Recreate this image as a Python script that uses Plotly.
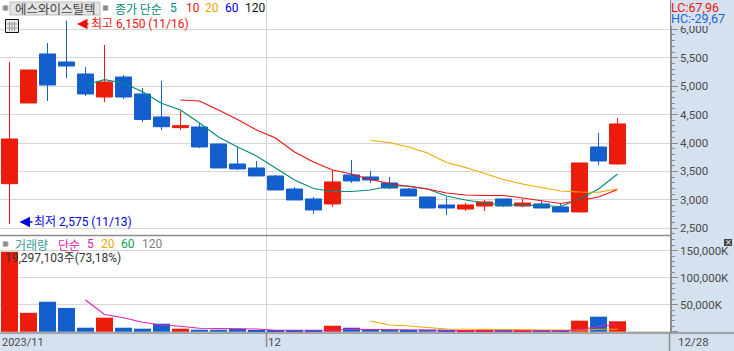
import plotly.graph_objects as go

W, H = 734, 351

# ---------- data ----------
dates = ["11/13","11/14","11/15","11/16","11/17","11/20","11/21","11/22","11/23","11/24",
         "11/27","11/28","11/29","11/30","12/01","12/04","12/05","12/06","12/07","12/08",
         "12/11","12/12","12/13","12/14","12/15","12/18","12/19","12/20","12/21","12/22",
         "12/26","12/27","12/28"]
opens  = [3285,4704,5566,5425,5214,4809,5161,4862,4458,4270,4282,3983,3631,3561,3420,3191,3016,
          2928,3438,3403,3297,3191,3051,2910,2839,2892,3016,2892,2928,2875,2787,3930,3631]
highs  = [5430,5284,5759,6150,5337,5724,5196,4968,5091,4563,4347,3983,3930,3684,3438,3226,3051,
          3526,3701,3508,3403,3209,3051,3051,2945,2998,3016,3016,2980,2928,3649,4176,4440]
lows   = [2575,4704,4739,5144,4827,4721,4774,4370,4229,4229,3912,3561,3526,3420,3174,2998,2752,
          2875,3297,3297,3191,3068,2857,2734,2804,2804,2875,2875,2857,2787,2787,3614,3614]
closes = [4071,5284,5020,5354,4862,5073,4809,4414,4287,4305,3930,3561,3544,3420,3174,2998,2822,
          3315,3333,3350,3209,3068,2857,2857,2910,2963,2892,2945,2857,2787,3649,3684,4335]
ma5  = [None]*4 + [5020,5114,5056,4903,4699,4581,4352,4106,3930,3772,3561,3350,3200,3147,3147,
                   3174,3244,3244,3191,3068,2998,2945,2910,2910,2901,2884,3016,3191,3455]
ma10 = [None]*9 + [4757,4739,4581,4414,4229,4088,3842,3666,3525,3455,3359,3288,3235,3191,3121,
                   3086,3077,3077,3033,2980,2936,2989,3051,3183]
ma20 = [None]*19 + [4044,4009,3930,3825,3657,3570,3464,3359,3279,3218,3156,3139,3133,3191]

volumes = [148000,35000,55500,44000,7400,26000,7400,5600,14800,5600,3700,3700,5500,3000,2500,3000,
           2400,11000,7400,4300,3700,1800,3700,3500,1600,1500,1500,1500,1500,1500,20400,27800,19297]
vol_ma5 = [None]*4 + [58700,31900,25900,17600,12400,10200,6300,5900,5900,5000,2600,2600,3100,3100,
                      4400,4400,4400,4000,3100,2600,1300,1300,1300,1300,1300,1300,3700,9600,13700]
vol_ma20 = [None]*19 + [19800,12400,10600,8100,5000,4400,4400,4400,3100,3100,3100,2600,4400,4400]

price_ticks = [2500,3000,3500,4000,4500,5000,5500,6000]
price_labels = ["2,500","3,000","3,500","4,000","4,500","5,000","5,500","6,000"]
vol_ticks = [0,50000,100000,150000]
vol_labels = ["","50,000K","100,000K","150,000K"]

# ---------- style ----------
RED, BLUE = "#eb1c0a", "#135fcd"
TEAL, MRED, ORANGE, NAVY = "#00897b", "#f01010", "#f0a800", "#0000e0"
MAGENTA, GREEN = "#e020b0", "#10a050"
GRID, AXIS, BAND = "#d6d6d6", "#8c8c8c", "#d6e1ef"
NARROW = "Roboto, Noto Sans CJK KR"
KR = "Noto Sans CJK KR, Roboto"

def px(x): return x / W
def py(y): return 1 - y / H

x = list(range(len(dates)))
month_edge = dates.index("12/01") - 0.5
colors = [RED if c >= o else BLUE for o, c in zip(opens, closes)]

fig = go.Figure()
for vals, col in [(ma5, TEAL), (ma10, MRED), (ma20, ORANGE)]:
    fig.add_trace(go.Scatter(x=x, y=vals, mode="lines", line=dict(color=col, width=1.1),
                             connectgaps=False, hoverinfo="skip", xaxis="x", yaxis="y"))
fig.add_trace(go.Candlestick(
    x=x, open=opens, high=highs, low=lows, close=closes, xaxis="x", yaxis="y",
    increasing=dict(line=dict(color=RED, width=1), fillcolor=RED),
    decreasing=dict(line=dict(color=BLUE, width=1), fillcolor=BLUE),
    whiskerwidth=0, hoverinfo="skip"))
fig.add_trace(go.Bar(x=x, y=volumes, marker=dict(color=colors, line=dict(width=0)),
                     width=17/19, hoverinfo="skip", xaxis="x2", yaxis="y2"))
for vals, col in [(vol_ma20, ORANGE), (vol_ma5, MAGENTA)]:
    fig.add_trace(go.Scatter(x=x, y=vals, mode="lines", line=dict(color=col, width=1.1),
                             hoverinfo="skip", xaxis="x2", yaxis="y2"))

def xax(anchor):
    return dict(domain=[0, px(670)], range=[-0.5, 34.76], anchor=anchor, tickmode="array",
                tickvals=[month_edge], showticklabels=False, ticks="", showgrid=True,
                gridcolor=GRID, gridwidth=1, zeroline=False, showline=False,
                rangeslider=dict(visible=False), fixedrange=True)

def yax(dom, rng, ticks, labels, minor, anchor):
    return dict(domain=dom, range=rng, side="right", anchor=anchor, tickmode="array",
                tickvals=ticks, ticktext=labels, ticks="outside", ticklen=6, tickwidth=1,
                tickcolor=AXIS, showgrid=True, gridcolor=GRID, gridwidth=1, zeroline=False,
                showline=True, linecolor=AXIS, linewidth=1.5, fixedrange=True,
                tickfont=dict(family=NARROW, size=11.5, color="#4a4a4a"),
                minor=dict(dtick=minor, ticks="outside", ticklen=3, tickcolor=AXIS,
                           tickwidth=1, showgrid=False))

shapes = []
def line(x0, y0, x1, y1, color=AXIS, width=1.5):
    shapes.append(dict(type="line", xref="paper", yref="paper", x0=px(x0), x1=px(x1),
                       y0=py(y0), y1=py(y1), line=dict(color=color, width=width)))
def rect(x0, y0, x1, y1, fill, color=None, width=0):
    shapes.append(dict(type="rect", xref="paper", yref="paper", x0=px(x0), x1=px(x1),
                       y0=py(y0), y1=py(y1), fillcolor=fill,
                       line=dict(color=color or fill, width=width)))

line(0, 235.5, 670, 235.5)
line(0, 333, W, 333)
line(669.5, 333, 669.5, H)
line(266.5, 333, 266.5, 347)
rect(10, 2, 100, 15, "#e4e4e4", "#bdbdbd", 1)
for sx, sy in [(3, 5.5), (103, 5.5), (3, 241.5)]:
    rect(sx, sy, sx + 5, sy + 5, "#8a8a8a", "#bdbdbd", 1)
# small table icon
rect(5.5, 19.5, 18.5, 32.5, "#e8e8e8", "#111111", 1)
for gx in (9.5, 12, 14.5):
    line(gx, 22, gx, 31, "#9a9a9a", 1)
for gy in (24, 28):
    line(7, gy, 17, gy, "#9a9a9a", 1)
# close button on the volume axis
rect(724, 239, 732, 246, "#444444")
# panel behind the LC / HC readout, covers the top of the 6,000 label
rect(671, 0, W, 26, BAND)

notes = []
def text(x0, yc, s, color, font=NARROW, size=12):
    notes.append(dict(xref="paper", yref="paper", x=px(x0), y=py(yc), xanchor="left", yanchor="middle",
                      text=s, showarrow=False, borderpad=0, borderwidth=0,
                      font=dict(family=font, size=size, color=color)))
def arrow(x0, x1, yc, color):
    notes.append(dict(xref="paper", yref="paper", axref="pixel", ayref="pixel", x=px(x1), y=py(yc),
                      ax=x0 - x1, ay=0, text="", showarrow=True, arrowhead=2, arrowsize=1.4,
                      arrowwidth=1.5, arrowcolor=color))

text(15, 8.5, "에스와이스틸텍", "#444444", KR, 12.5)
text(115, 8.5, "종가 단순", TEAL, KR, 12)
text(170, 8.5, "5", TEAL)
text(186, 8.5, "10", MRED)
text(205, 8.5, "20", ORANGE)
text(224.5, 8.5, "60", NAVY)
text(245, 8.5, "120", "#111111")
arrow(90, 77, 24, MRED)
text(91, 24, "최고 6,150 (11/16)", MRED, NARROW, 12)
arrow(34, 19.5, 222, NAVY)
text(34, 222, "최저 2,575 (11/13)", NAVY, NARROW, 12)
text(15, 244, "거래량", "#3a9a9a", KR, 12)
text(58, 244, "단순", MAGENTA, KR, 12)
text(87, 244, "5", MAGENTA)
text(101, 244, "20", ORANGE)
text(121, 244, "60", GREEN)
text(142, 244, "120", "#808080")
text(5, 257.5, "19,297,103주(73,18%)", "#333333", NARROW, 12)
text(671, 7, "LC:67,96", MRED, NARROW, 12.5)
text(671, 19, "HC:-29,67", "#1464d8", NARROW, 12.5)
text(2, 342, "2023/11", "#4a4a4a", NARROW, 11)
text(268, 342, "12", "#4a4a4a", NARROW, 11.5)
text(678, 342, "12/28", "#4a4a4a", NARROW, 11.5)
text(725, 242.5, "×", "#ffffff", "DejaVu Sans", 8)

fig.update_layout(
    width=W, height=H, margin=dict(l=0, r=0, t=0, b=0, pad=0, autoexpand=False),
    paper_bgcolor=BAND, plot_bgcolor="#ffffff", showlegend=False,
    boxgap=3/19, boxgroupgap=0, hovermode=False,
    xaxis=xax("y"), xaxis2=xax("y2"),
    yaxis=yax([py(235), 1], [2382, 6515], price_ticks, price_labels, 100, "x"),
    yaxis2=yax([py(333), py(235)], [-2407, 179074], vol_ticks, vol_labels, 10000, "x2"),
    shapes=shapes, annotations=notes)

fig.write_html("out.html", config=dict(displayModeBar=False),
               post_script="document.body.style.margin='0';document.documentElement.style.overflow='hidden';")
